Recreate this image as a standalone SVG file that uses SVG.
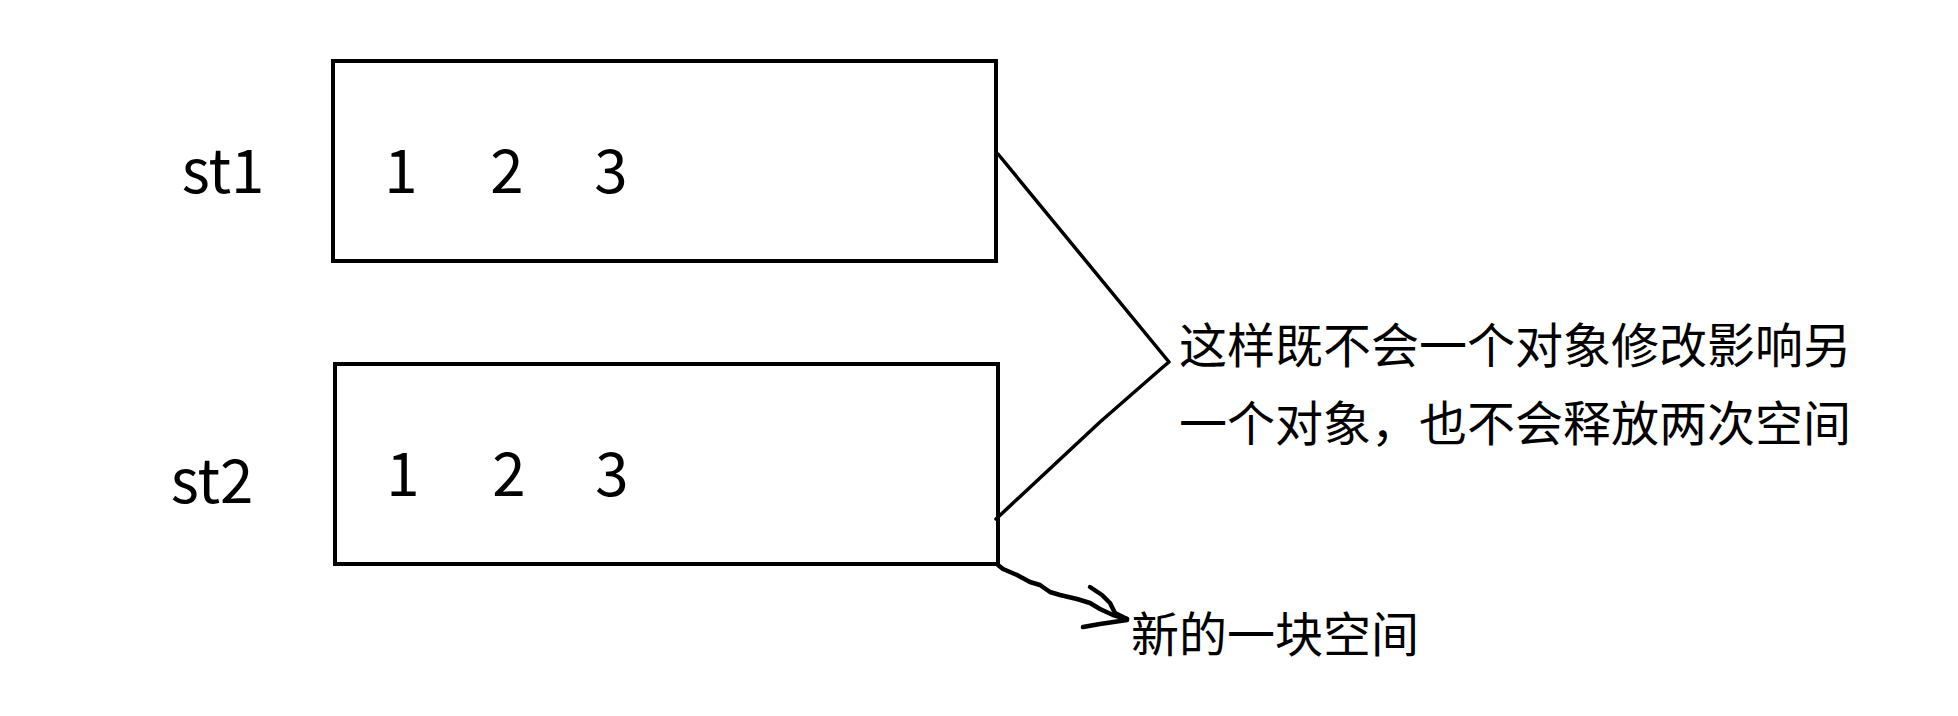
<svg xmlns="http://www.w3.org/2000/svg" width="1958" height="716" viewBox="0 0 1958 716">
<style>
.box{fill:none;stroke:#000;stroke-width:4}
.lbl{font-family:"Noto Sans CJK SC","Noto Sans",sans-serif;font-size:60px;fill:#000}
.cjk{font-family:"Noto Sans CJK SC",sans-serif;font-size:48px;fill:#000}
.ln{fill:none;stroke:#000;stroke-width:3.5;stroke-linecap:round;stroke-linejoin:round}
.hand{fill:none;stroke:#000;stroke-width:4.5;stroke-linecap:round;stroke-linejoin:round}
</style>
<rect width="1958" height="716" fill="#fff"/>
<g id="st1">
<text class="lbl" x="223" y="193" text-anchor="middle">st1</text>
<rect class="box" x="333" y="61" width="663" height="200"/>
<text class="lbl" x="401" y="193" text-anchor="middle">1</text>
<text class="lbl" x="507" y="193" text-anchor="middle">2</text>
<text class="lbl" x="611" y="193" text-anchor="middle">3</text>
</g>
<g id="st2">
<text class="lbl" x="212" y="503" text-anchor="middle">st2</text>
<rect class="box" x="335" y="364" width="663" height="200"/>
<text class="lbl" x="403" y="496" text-anchor="middle">1</text>
<text class="lbl" x="509" y="496" text-anchor="middle">2</text>
<text class="lbl" x="612" y="496" text-anchor="middle">3</text>
</g>
<g id="note1">
<text class="cjk" x="1179" y="363" textLength="672">这样既不会一个对象修改影响另</text>
<text class="cjk" x="1179" y="441" textLength="672">一个对象，也不会释放两次空间</text>
</g>
<g id="note2">
<text class="cjk" x="1131" y="652">新的一块空间</text>
</g>
<g id="connectors">
<polyline class="ln" points="998,154 1169,362 1163,367 1100,422 996,519"/>
<polyline class="hand" points="998,565 1003,569 1017,575 1030,582 1040,585 1050,592 1060,595 1077,599 1090,603 1100,609 1113,615 1127,619"/>
<polyline class="hand" points="1090,587 1102,595 1110,603 1115,613 1127,619"/>
<polyline class="hand" points="1083,627 1100,624 1127,620"/>
</g>
</svg>
